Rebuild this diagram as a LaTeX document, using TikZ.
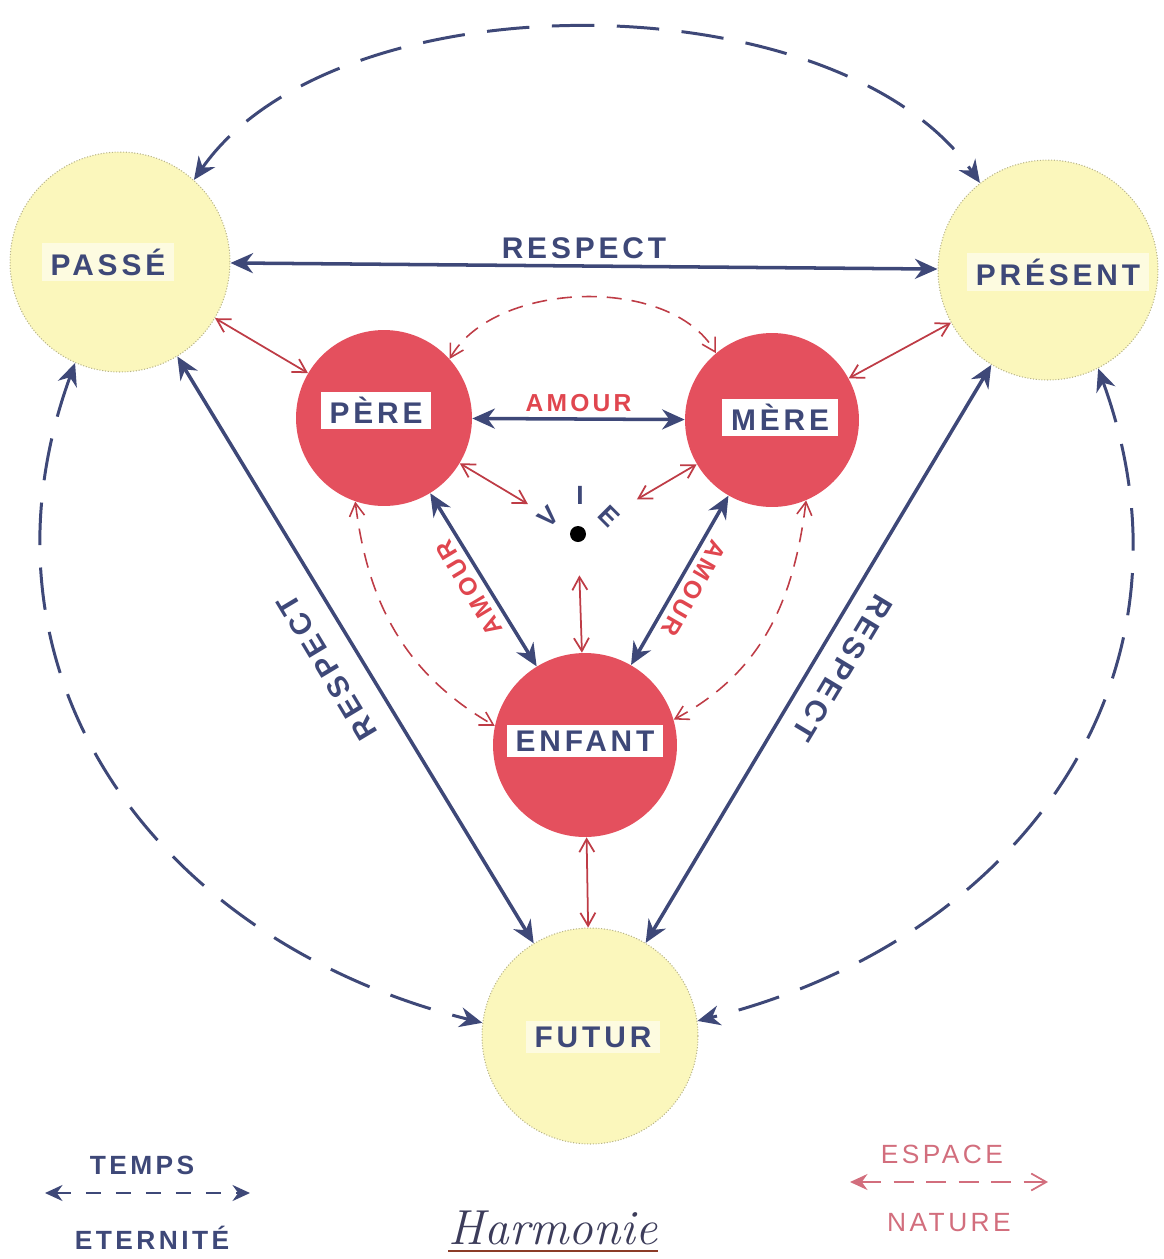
\documentclass[tikz,border=0pt]{standalone}
\usepackage{fontspec}
\newfontfamily\handfont[LetterSpace=13]{Liberation Sans}
\usepackage{xcolor}
\definecolor{hmink}{HTML}{3E4878}
\definecolor{hmsun}{HTML}{FBF7BC}
\definecolor{hmsunedge}{HTML}{B8B48A}
\definecolor{hmrose}{HTML}{E4505E}
\definecolor{hmwire}{HTML}{BE3C46}
\definecolor{hmlovered}{HTML}{E0464F}
\definecolor{hmpale}{HTML}{D26E7D}
\definecolor{hmrule}{HTML}{8C3C28}
\definecolor{hmscript}{HTML}{3C3C5A}
\usepackage{tikz}
\usetikzlibrary{arrows.meta}
\tikzset{
  hmtime/.style={circle,minimum size=4.4cm,inner sep=0pt,fill=hmsun,draw=hmsunedge,densely dotted,line width=0.6pt},
  hmkin/.style={circle,minimum size=3.52cm,inner sep=0pt,fill=hmrose},
  hmtag/.style={fill=white,inner xsep=5pt,inner ysep=3pt,text=hmink,font=\handfont\bfseries\fontsize{17}{17}\selectfont},
  hmsoft/.style={hmtag,fill opacity=0.55,text opacity=1},
  hmword/.style={text=hmink,font=\handfont\bfseries\fontsize{17}{17}\selectfont},
  hmamour/.style={text=hmlovered,font=\handfont\bfseries\fontsize{14}{14}\selectfont},
  hmkey/.style={font=\handfont\bfseries\fontsize{15}{15}\selectfont},
  hmkeythin/.style={font=\handfont\fontsize{15}{15}\selectfont},
  hmbond/.style={{Stealth[length=4.5mm,width=4mm]}-{Stealth[length=4.5mm,width=4mm]},line width=2pt,draw=hmink},
  hmeternal/.style={hmbond,line width=1.7pt,dash pattern=on 8.5mm off 4.5mm},
  hmlink/.style={{Straight Barb[length=2.6mm,width=3mm]}-{Straight Barb[length=2.6mm,width=3mm]},line width=1pt,draw=hmwire},
  hmnature/.style={hmlink,line width=0.9pt,dash pattern=on 3mm off 2mm},
}
\begin{document}
\begin{tikzpicture}[x=0.02cm,y=0.02cm]
\useasboundingbox (0,0) rectangle (1164,-1259);
\node[hmtime] (passe) at (120,-262) {};
\node[hmtime] (present) at (1048,-270) {};
\node[hmtime,minimum size=4.32cm] (futur) at (590,-1036) {};
\node[hmkin] (pere) at (384,-418) {};
\node[hmkin,minimum size=3.48cm] (mere) at (772,-420) {};
\node[hmkin,minimum size=3.68cm] (enfant) at (585,-745) {};
\node[circle,fill=black,minimum size=3.2mm,inner sep=0pt] (vie) at (578,-534) {};
\node[hmsoft] (passe-tag) at (108,-262) {PASSÉ};
\node[hmsoft] (present-tag) at (1058,-272) {PRÉSENT};
\node[hmsoft] (futur-tag) at (593,-1037) {FUTUR};
\node[hmtag] (pere-tag) at (376,-410) {PÈRE};
\node[hmtag] (mere-tag) at (780,-417) {MÈRE};
\node[hmtag] (enfant-tag) at (585,-741) {ENFANT};
\node[hmword,hmkey,rotate=45] (vie-v) at (548,-517) {V};
\node[hmword,hmkey] (vie-i) at (580,-495) {I};
\node[hmword,hmkey,rotate=-45] (vie-e) at (609,-516) {E};
\draw[hmeternal] (passe.48) to[out=55,in=125,looseness=0.81] (present.128);
\draw[hmeternal] (passe.246) to[out=250,in=166,looseness=1.1] (futur.173);
\draw[hmeternal] (present.297) to[out=290,in=14,looseness=1.1] (futur.8);
\draw[hmbond] (passe) -- node[hmword,above] (respect-top) {RESPECT} (present);
\draw[hmbond] (passe) -- node[hmword,rotate=121,anchor=south,inner ysep=12pt] (respect-left) {RESPECT} (futur);
\draw[hmbond] (present) -- node[hmword,rotate=239,anchor=south,inner ysep=9pt] (respect-right) {RESPECT} (futur);
\draw[hmbond] (pere) -- node[hmamour,above] (amour-top) {AMOUR} (mere);
\draw[hmbond] (pere) -- node[hmamour,rotate=121,anchor=south] (amour-left) {AMOUR} (enfant);
\draw[hmbond] (mere) -- node[hmamour,rotate=240,anchor=south] (amour-right) {AMOUR} (enfant);
\draw[hmlink] (passe) -- (pere);
\draw[hmlink] (present) -- (mere);
\draw[hmlink] (enfant) -- (futur);
\draw[hmlink,shorten >=1cm] (pere) -- (vie);
\draw[hmlink,shorten >=1.2cm] (mere) -- (vie);
\draw[hmlink,shorten <=0.66cm] (vie) -- (enfant);
\draw[hmnature] (pere.42) to[out=60,in=120,looseness=0.87] (mere.130);
\draw[hmnature] (pere.251) to[out=277,in=150] (enfant.168);
\draw[hmnature] (mere.293) to[out=263,in=28] (enfant.16);
\coordinate (temps-a) at (45,-1193);
\coordinate (temps-b) at (250,-1193);
\draw[hmbond,line width=1.3pt,dash pattern=on 3mm off 3mm,{Stealth[length=3.5mm,width=3.2mm]}-{Stealth[length=3.5mm,width=3.2mm]}] (temps-a) -- (temps-b);
\node[hmword,hmkey] (temps) at (142,-1165) {TEMPS};
\node[hmword,hmkey] (eternite) at (152,-1238) {ETERNITÉ};
\coordinate (espace-a) at (850,-1182);
\coordinate (espace-b) at (1048,-1182);
\draw[hmpale,line width=1pt,dash pattern=on 4mm off 2.5mm,{Stealth[length=3.5mm,width=3.2mm]}-{Straight Barb[length=3mm,width=3.4mm]}] (espace-a) -- (espace-b);
\node[hmkeythin,text=hmpale] (espace) at (942,-1154) {ESPACE};
\node[hmkeythin,text=hmpale] (nature) at (949,-1223) {NATURE};
\node[font=\itshape\fontsize{28}{28}\selectfont,text=hmscript,inner sep=0pt] (harmonie) at (553,-1228) {Harmonie};
\draw[hmrule,line width=1.2pt] ([yshift=-3.4pt]harmonie.south west) -- ([yshift=-3.4pt]harmonie.south east);
\end{tikzpicture}
\end{document}
